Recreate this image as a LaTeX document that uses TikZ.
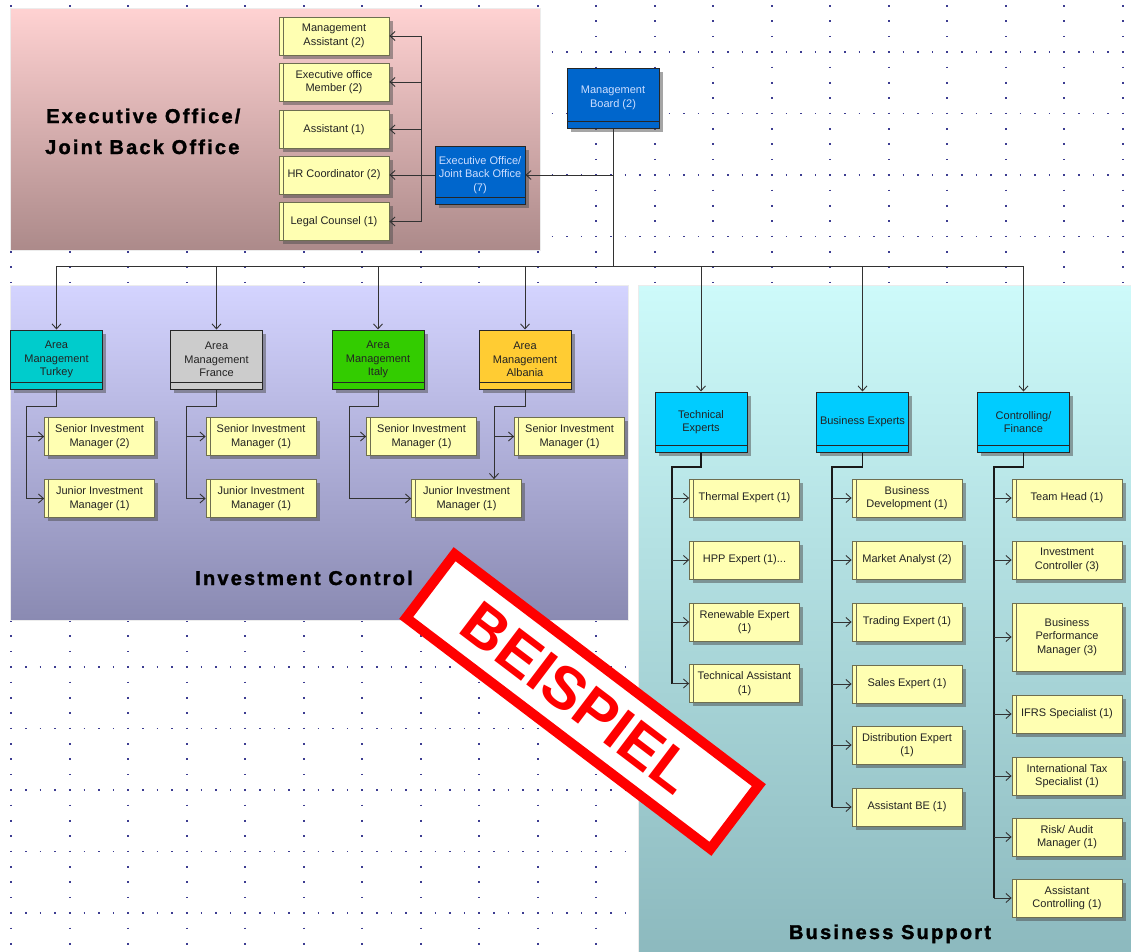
\documentclass[tikz,border=0pt]{standalone}
\usepackage{fontspec}
\setmainfont{Liberation Sans}
\newfontfamily\headfont[LetterSpace=11,FakeBold=1.6]{Liberation Sans}
\usetikzlibrary{arrows.meta,shadows,calc}
\definecolor{ybfill}{RGB}{255,255,178}
\definecolor{ybord}{RGB}{110,110,80}
\definecolor{mbluefill}{RGB}{0,102,204}
\definecolor{mbluetext}{RGB}{205,222,255}
\definecolor{cyanfill}{RGB}{0,204,255}
\definecolor{turkeyc}{RGB}{0,204,204}
\definecolor{francec}{RGB}{204,204,204}
\definecolor{italyc}{RGB}{51,204,0}
\definecolor{albaniac}{RGB}{255,204,51}
\definecolor{connc}{RGB}{50,50,50}
\definecolor{gridc}{RGB}{60,60,145}
\definecolor{txtc}{RGB}{35,35,35}
\definecolor{pinkA}{RGB}{255,210,210}
\definecolor{pinkB}{RGB}{172,138,138}
\definecolor{purA}{RGB}{212,212,255}
\definecolor{purB}{RGB}{138,138,178}
\definecolor{tealA}{RGB}{205,250,250}
\definecolor{tealB}{RGB}{140,185,190}
\definecolor{stampred}{RGB}{255,0,0}
\newcommand\bxfont{\fontsize{11}{13.5}\selectfont}
\newcommand\hdfont{\headfont\bfseries\fontsize{20}{31}\selectfont}
\tikzset{
  griddot/.style={draw=gridc, line width=1.8pt},
  region/.style={draw=white!85!gray, line width=0.8pt, shading angle=45},
  shad/.style={drop shadow={shadow xshift=3.5pt, shadow yshift=-3.5pt, fill=black!70, opacity=0.5}},
  ybox/.style={shad, draw=ybord, line width=0.8pt, fill=ybfill, minimum width=110pt, minimum height=38pt,
    inner sep=1pt, align=center, font=\bxfont, text=txtc,
    path picture={\draw[ybord, line width=0.8pt] ([xshift=4pt]path picture bounding box.north west) -- ([xshift=4pt]path picture bounding box.south west);}},
  mbox/.style={shad, draw=black!85, line width=1pt, minimum width=92pt, minimum height=60pt,
    inner sep=1pt, align=center, font=\bxfont, text=txtc,
    path picture={\draw[black!85, line width=0.9pt] ([yshift=7pt]path picture bounding box.south west) -- ([yshift=7pt]path picture bounding box.south east);}},
  mblue/.style={mbox, fill=mbluefill, text=mbluetext},
  cbox/.style={mbox, fill=cyanfill},
  conn/.style={draw=connc, line width=0.9pt},
  spine/.style={draw=black!90, line width=1.3pt},
  arr/.style={conn, -{Straight Barb[length=5pt,width=9pt]}},
  heading/.style={font=\hdfont, text=black, anchor=base, inner sep=0pt}
}
\begin{document}
\begin{tikzpicture}[x=1pt,y=-1pt]
\useasboundingbox (0,0) rectangle (1131,951);
% dotted grid
\begin{scope}
\clip (0,0) rectangle (1131,951);
\foreach \k in {0,...,19} \draw[griddot, dash pattern=on 1.6pt off 13.775pt] ({11.2+58.5*\k},-10.3) -- ({11.2+58.5*\k},960);
\foreach \m in {0,...,16} \draw[griddot, dash pattern=on 1.6pt off 13.025pt] (-48.1,{-9.5+61.5*\m}) -- (1140,{-9.5+61.5*\m});
\end{scope}
% regions
\shade[region, top color=pinkA, bottom color=pinkB] (10,8) rectangle (540,250);
\shade[region, top color=purA, bottom color=purB] (10,285) rectangle (628,620);
\shade[region, top color=tealA, bottom color=tealB] (638,285) rectangle (1135,955);
% headings
\node[heading, anchor=base west] (h1) at (46,123) {Executive Office/};
\node[heading, anchor=base west] (h2) at (45,154) {Joint Back Office};
\node[heading] (h3) at (304,585) {Investment Control};
\node[heading] (h4) at (890,939) {Business Support};
% top boxes
\node[mblue] (mb) at (613,98) {Management\\Board (2)};
\node[mblue, minimum width=90pt, minimum height=58pt] (eo) at (480,175) {Executive Office/\\Joint Back Office\\(7)};
\node[ybox] (ma) at (334,36) {Management\\Assistant (2)};
\node[ybox] (eom) at (334,82) {Executive office\\Member (2)};
\node[ybox] (as) at (334,129.5) {Assistant (1)};
\node[ybox] (hr) at (334,175) {HR Coordinator (2)};
\node[ybox] (lc) at (334,221.5) {Legal Counsel (1)};
% area management
\node[mbox, fill=turkeyc, minimum height=59pt] (tk) at (56.5,359.5) {Area\\Management\\Turkey};
\node[mbox, fill=francec, minimum height=59pt] (fr) at (216.5,359.5) {Area\\Management\\France};
\node[mbox, fill=italyc, minimum height=59pt] (it) at (378,359.5) {Area\\Management\\Italy};
\node[mbox, fill=albaniac, minimum height=59pt] (al) at (525,359.5) {Area\\Management\\Albania};
\node[ybox] (sT) at (99.5,436.5) {Senior Investment\\Manager (2)};
\node[ybox] (jT) at (99.5,498.5) {Junior Investment\\Manager (1)};
\node[ybox] (sF) at (261,436.5) {Senior Investment\\Manager (1)};
\node[ybox] (jF) at (261,498.5) {Junior Investment\\Manager (1)};
\node[ybox] (sI) at (421.5,436.5) {Senior Investment\\Manager (1)};
\node[ybox] (sA) at (569.5,436.5) {Senior Investment\\Manager (1)};
\node[ybox] (jIA) at (466.5,498.5) {Junior Investment\\Manager (1)};
% business support
\node[cbox] (te) at (701,422) {Technical\\Experts};
\node[cbox] (be) at (862.5,422) {Business Experts};
\node[cbox] (cf) at (1023.5,422) {Controlling/\\Finance};
\node[ybox] (th) at (744.5,498) {Thermal Expert (1)};
\node[ybox] (hpp) at (744.5,560) {HPP Expert (1)...};
\node[ybox] (re) at (744.5,622) {Renewable Expert\\(1)};
\node[ybox] (ta) at (744.5,683.5) {Technical Assistant\\(1)};
\node[ybox] (bd) at (907,498) {Business\\Development (1)};
\node[ybox] (man) at (907,560) {Market Analyst (2)};
\node[ybox] (tr) at (907,622) {Trading Expert (1)};
\node[ybox] (se) at (907,684) {Sales Expert (1)};
\node[ybox] (de) at (907,745) {Distribution Expert\\(1)};
\node[ybox] (abe) at (907,807) {Assistant BE (1)};
\node[ybox] (thd) at (1067,498) {Team Head (1)};
\node[ybox] (ic) at (1067,560) {Investment\\Controller (3)};
\node[ybox, minimum height=68pt] (bpm) at (1067,637) {Business\\Performance\\Manager (3)};
\node[ybox] (ifrs) at (1067,714) {IFRS Specialist (1)};
\node[ybox] (itx) at (1067,776) {International Tax\\Specialist (1)};
\node[ybox] (ra) at (1067,837) {Risk/ Audit\\Manager (1)};
\node[ybox] (ac) at (1067,898) {Assistant\\Controlling (1)};
% connectors: top
\coordinate (bus) at (613,266);
\draw[conn] (mb.south) -- (bus);
\draw[conn] (tk.north |- bus) -- (cf.north |- bus);
\foreach \n in {tk,fr,it,al,te,be,cf} \draw[arr] (\n.north |- bus) -- (\n.north);
\draw[arr] (mb.south |- eo.east) -- (eo.east);
\coordinate (eob) at (421,175);
\draw[conn] (eo.west) -- (eob);
\draw[conn] (eob |- ma.east) -- (eob |- lc.east);
\foreach \n in {ma,eom,as,hr,lc} \draw[arr] (eob |- \n.east) -- (\n.east);
% area management connectors
\coordinate (tkb) at (26,406);
\draw[arr] (tk.south) |- (tkb) |- (jT.west);
\draw[arr] (tkb |- sT.west) -- (sT.west);
\coordinate (frb) at (186,406);
\draw[arr] (fr.south) |- (frb) |- (jF.west);
\draw[arr] (frb |- sF.west) -- (sF.west);
\coordinate (itb) at (349,406);
\draw[arr] (it.south) |- (itb) |- (jIA.west);
\draw[arr] (itb |- sI.west) -- (sI.west);
\coordinate (alb) at (494,406);
\draw[arr] (al.south) |- (alb) -- (alb |- jIA.north);
\draw[arr] (alb |- sA.west) -- (sA.west);
% business support connectors
\coordinate (teb) at (672,467);
\draw[spine] (te.south) |- (teb) -- (teb |- ta.west);
\foreach \n in {th,hpp,re,ta} \draw[arr] (teb |- \n.west) -- (\n.west);
\coordinate (beb) at (832,467);
\draw[spine] (be.south) |- (beb) -- (beb |- abe.west);
\foreach \n in {bd,man,tr,se,de,abe} \draw[arr] (beb |- \n.west) -- (\n.west);
\coordinate (cfb) at (994,467);
\draw[spine] (cf.south) |- (cfb) -- (cfb |- ac.west);
\foreach \n in {thd,ic,bpm,ifrs,itx,ra,ac} \draw[arr] (cfb |- \n.west) -- (\n.west);
% stamp
\node[draw=stampred, line width=10pt, fill=white, rotate=-37.2, minimum width=382pt, minimum height=80pt, inner sep=0pt] (stamp) at (582.5,701.5) {};
\node[text=stampred, font=\bfseries\fontsize{60}{60}\selectfont, rotate=-37.2, inner sep=0pt] (stamptext) at (578,698) {BEISPIEL};
\end{tikzpicture}
\end{document}
